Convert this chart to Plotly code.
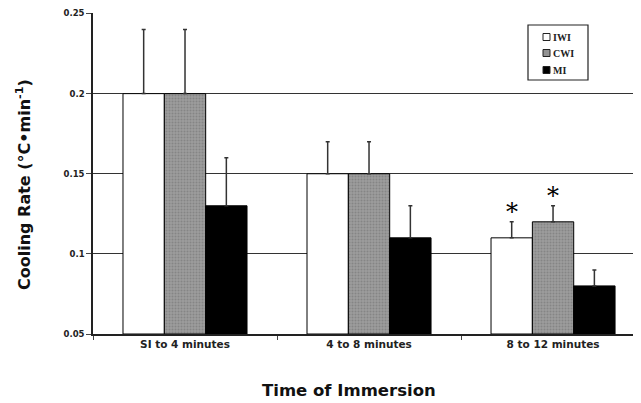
import plotly.graph_objects as go

categories = ["SI to 4 minutes", "4 to 8 minutes", "8 to 12 minutes"]
series_names = ["IWI", "CWI", "MI"]
iwi = [0.20, 0.15, 0.11]
cwi = [0.20, 0.15, 0.12]
mi = [0.13, 0.11, 0.08]
iwi_err = [0.04, 0.02, 0.01]
cwi_err = [0.04, 0.02, 0.01]
mi_err = [0.03, 0.02, 0.01]
y_ticks = [0.05, 0.1, 0.15, 0.2, 0.25]
y_tick_labels = ["0.05", "0.1", "0.15", "0.2", "0.25"]
x_title = "Time of Immersion"
y_title = "Cooling Rate (°C•min<sup>-1</sup>)"
base_value = 0.05

font_sans = "DejaVu Sans, Arial, sans-serif"

fig = go.Figure()

def add_series(name, vals, errs, color, pattern=None):
    fig.add_trace(go.Bar(
        name=name,
        x=categories,
        y=[v - base_value for v in vals],
        base=base_value,
        marker=dict(color=color, line=dict(color="black", width=1),
                    pattern=pattern),
        error_y=dict(type="data", symmetric=False, array=errs,
                     arrayminus=[0] * len(errs), color="#333333",
                     thickness=1.5, width=2),
        showlegend=False,
    ))

add_series("IWI", iwi, iwi_err, "white")
add_series("CWI", cwi, cwi_err, "#939393",
           dict(shape=".", fgcolor="#6e6e6e", bgcolor="#9c9c9c", size=3, solidity=0.35))
add_series("MI", mi, mi_err, "black")

# page body has an 8px margin, so the figure is drawn 8px in from the window edge
W, H = 633, 395
ML, MT, MB = 85, 5, 69
PW, PH = W - ML, H - MT - MB

fig.update_layout(
    width=W, height=H,
    margin=dict(l=ML, r=0, t=MT, b=MB),
    paper_bgcolor="white", plot_bgcolor="white",
    barmode="group", bargap=0.326, bargroupgap=0,
    font=dict(family=font_sans, color="#222222"),
)

fig.update_xaxes(
    range=[-0.5, 2.478], showgrid=False, automargin=False,
    showline=True, linecolor="#222222", linewidth=1.5,
    ticks="outside", ticklen=4, tickcolor="#444444",
    tickson="boundaries",
    tickfont=dict(family=font_sans, size=10.5, color="#222222", weight="bold"),
)
fig.update_yaxes(
    range=[0.05, 0.2503], tickvals=y_ticks, ticktext=y_tick_labels,
    showgrid=True, gridcolor="#333333", gridwidth=1.2, automargin=False,
    showline=True, linecolor="#222222", linewidth=1.5,
    ticks="outside", ticklen=5, tickcolor="#444444",
    zeroline=False,
    tickfont=dict(family=font_sans, size=8.5, color="#222222", weight="bold"),
)

# asterisks marking significance
fig.add_annotation(x=categories[2], y=iwi[2] + iwi_err[2], yref="y", text="*",
                   showarrow=False, xshift=-41, yshift=10,
                   font=dict(family="DejaVu Serif, serif", size=24, color="black"))
fig.add_annotation(x=categories[2], y=cwi[2] + cwi_err[2], yref="y", text="*",
                   showarrow=False, xshift=0, yshift=10,
                   font=dict(family="DejaVu Serif, serif", size=24, color="black"))

# pixel positions relative to the window, converted to paper coords
OFF = 8
def pxx(xp): return (xp - OFF - ML) / PW
def pxy(yp): return (MT + PH - (yp - OFF)) / PH

# axis titles
fig.add_annotation(xref="paper", yref="paper", x=pxx(349), y=pxy(390),
                   xanchor="center", yanchor="middle", showarrow=False,
                   text=x_title,
                   font=dict(family=font_sans, size=16.5, color="#111111", weight="bold"))
fig.add_annotation(xref="paper", yref="paper", x=pxx(23), y=pxy(185),
                   xanchor="center", yanchor="middle", showarrow=False,
                   textangle=-90, text=y_title,
                   font=dict(family=font_sans, size=16, color="#111111", weight="bold"))

# custom legend box
lx0, lx1, ly0, ly1 = 528, 588, 25, 80
fig.add_shape(type="rect", xref="paper", yref="paper",
              x0=pxx(lx0), x1=pxx(lx1), y0=pxy(ly1), y1=pxy(ly0),
              line=dict(color="#222222", width=1.2), fillcolor="white", layer="above")
leg_colors = ["white", "#939393", "black"]
leg_y = [37, 53, 70]
for name, col, yy in zip(series_names, leg_colors, leg_y):
    fig.add_shape(type="rect", xref="paper", yref="paper",
                  x0=pxx(543), x1=pxx(550), y0=pxy(yy + 3.5), y1=pxy(yy - 3.5),
                  line=dict(color="#222222", width=1), fillcolor=col, layer="above")
    fig.add_annotation(xref="paper", yref="paper",
                       x=pxx(551), y=pxy(yy),
                       xanchor="left", yanchor="middle", showarrow=False,
                       text=name,
                       font=dict(family="Liberation Serif, Times New Roman, serif",
                                 size=10, color="#222222", weight="bold"))

fig.write_html("out.html")
